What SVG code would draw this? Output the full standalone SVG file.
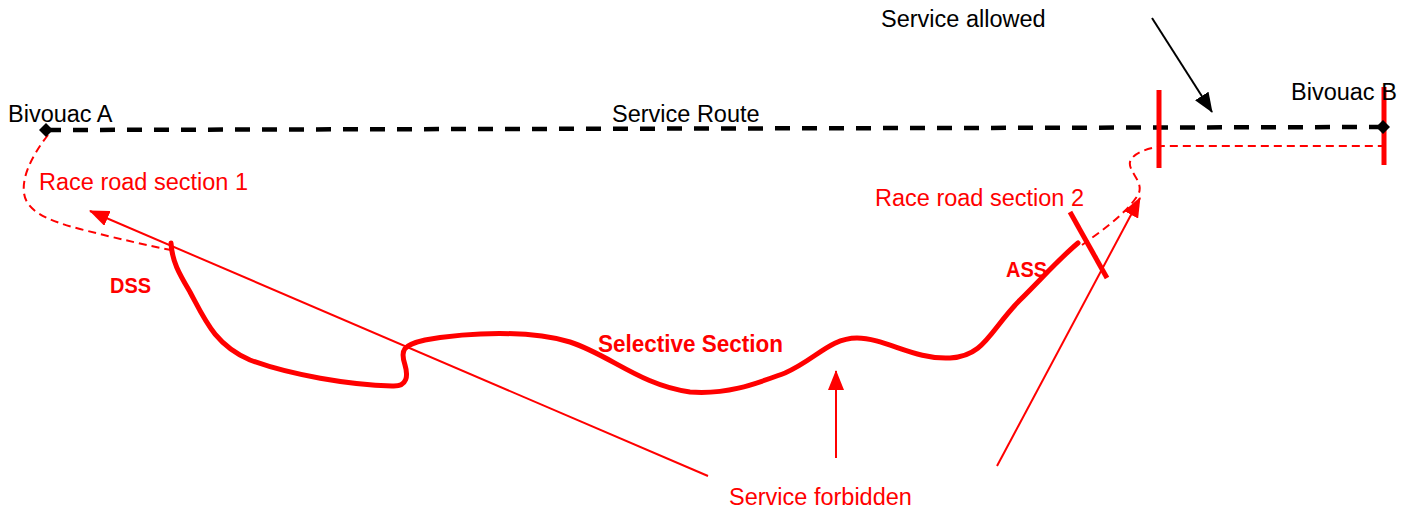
<svg xmlns="http://www.w3.org/2000/svg" width="1405" height="511" viewBox="0 0 1405 511">
<style>
text{font-family:"Liberation Sans",Arial,sans-serif;font-size:23.5px}
.red{fill:#ff0000}
.blk{fill:#000}
.b{font-weight:bold;font-size:23px}
.sm{font-size:22px}
.route{fill:none;stroke:#000;stroke-width:4.5;stroke-dasharray:15 12}
.rdash{fill:none;stroke:#ff0000;stroke-width:2;stroke-dasharray:8 5}
.thick{fill:none;stroke:#ff0000;stroke-width:5;stroke-linecap:round;stroke-linejoin:round}
.bar{stroke:#ff0000;stroke-width:5}
.rarrow{stroke:#ff0000;stroke-width:2;fill:none;marker-end:url(#ra)}
.karrow{stroke:#000;stroke-width:2;fill:none;marker-end:url(#ka)}
.dia{fill:#000}
</style>
<defs>
<marker id="ra" markerUnits="userSpaceOnUse" viewBox="0 0 20 16" refX="19" refY="8" markerWidth="20" markerHeight="16" orient="auto">
<path d="M0,0 L20,8 L0,16 Z" fill="#ff0000"/>
</marker>
<marker id="ka" markerUnits="userSpaceOnUse" viewBox="0 0 20 16" refX="19" refY="8" markerWidth="20" markerHeight="16" orient="auto">
<path d="M0,0 L20,8 L0,16 Z" fill="#000"/>
</marker>
</defs>

<g id="connectors">
<path id="service-route" class="route" d="M46,130 L1383,127"/>
<path id="race-road-1" class="rdash" d="M48,135 C30,158 22,178 24,193 C26,210 45,220 80,229 C115,238 150,246 171,250"/>
<path id="race-road-2" class="rdash" d="M1082,245 C1100,232 1125,215 1138,195 C1145,182 1128,172 1130,162 C1133,152 1150,148 1162,146 L1384,146"/>
<path id="selective" class="thick" d="M171,243 C172,262 180,275 190,292 C205,320 215,345 250,360 C290,375 350,385 392,386 C408,387 408,375 405,365 C400,350 403,345 425,340 C470,332 530,330 570,342 C610,355 640,385 690,392 C730,395 760,382 785,373 C815,360 830,338 857,338 C885,338 915,360 950,358 C985,356 990,330 1020,300 C1045,275 1060,258 1078,243"/>
<line class="bar" x1="1070" y1="212" x2="1107" y2="278"/>
<line class="bar" x1="1159" y1="90" x2="1159" y2="168"/>
<line class="bar" x1="1384" y1="87" x2="1384" y2="165"/>
<line class="rarrow" x1="708" y1="476" x2="90" y2="211"/>
<line class="rarrow" x1="836" y1="458" x2="836" y2="371"/>
<line class="rarrow" x1="997" y1="466" x2="1140" y2="198"/>
<line class="karrow" x1="1152" y1="18" x2="1212" y2="112"/>
</g>

<g id="bivouac-a"><path class="dia" d="M39,130 L46,123 L53,130 L46,137 Z"/><text class="blk" x="8" y="122">Bivouac A</text></g>
<g id="bivouac-b"><path class="dia" d="M1376,127 L1383,120 L1390,127 L1383,134 Z"/><text class="blk" x="1291" y="100">Bivouac B</text></g>
<g id="service-route-label"><text class="blk" x="612" y="122">Service Route</text></g>
<g id="service-allowed"><text class="blk" x="881" y="27">Service allowed</text></g>
<g id="race-road-section-1"><text class="red" x="39" y="190">Race road section 1</text></g>
<g id="race-road-section-2"><text class="red" x="875" y="206">Race road section 2</text></g>
<g id="dss"><text class="red b sm" x="110" y="293" textLength="41" lengthAdjust="spacingAndGlyphs">DSS</text></g>
<g id="ass"><text class="red b sm" x="1006" y="277" textLength="41" lengthAdjust="spacingAndGlyphs">ASS</text></g>
<g id="selective-section"><text class="red b" x="598" y="352" textLength="185" lengthAdjust="spacingAndGlyphs">Selective Section</text></g>
<g id="service-forbidden"><text class="red" x="729" y="505">Service forbidden</text></g>
</svg>
